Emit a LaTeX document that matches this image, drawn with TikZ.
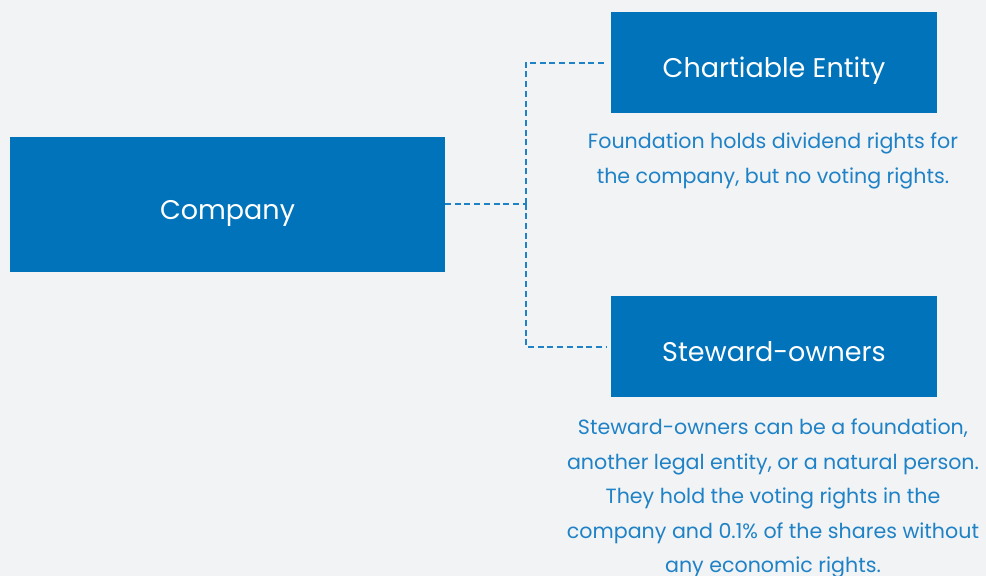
\documentclass[tikz,border=0pt]{standalone}
\usepackage{fontspec}
\setmainfont{Poppins}
\definecolor{boxblue}{HTML}{0073BB}
\definecolor{noteblue}{HTML}{1F82C6}
\definecolor{pagegray}{HTML}{F1F3F5}
\tikzset{
  unitbox/.style={rectangle, fill=boxblue, text=white, align=center,
    inner sep=0, outer sep=0, text height=29pt, text depth=0pt,
    font=\fontsize{27}{30}\selectfont},
  notetext/.style={text=noteblue, align=center, inner sep=0,
    font=\fontsize{20.6}{34.5}\selectfont},
  link/.style={draw=noteblue, line width=2pt, dash pattern=on 6pt off 3.7pt}
}
\begin{document}
\begin{tikzpicture}[x=1pt, y=-1pt]
  \fill[pagegray] (0, 0) rectangle (986, 576);
  \useasboundingbox (0, 0) rectangle (986, 576);

% BOXES
  \node[unitbox,
    minimum width = 435pt,
    minimum height = 135pt] (company) at (227.5, 204.5) {Company};
  \node[unitbox,
    minimum width = 326pt,
    minimum height = 101pt] (charity) at (774, 62.5) {Chartiable Entity};
  \node[unitbox,
    minimum width = 326pt,
    minimum height = 101pt] (steward) at (774, 346.5) {Steward-owners};

% NOTES
  \node[notetext, anchor=north] (charity_note) at (773, 133)
    {Foundation holds dividend rights for\\the company, but no voting rights.};
  \node[notetext, anchor=north] (steward_note) at (773, 419)
    {Steward-owners can be a foundation,\\another legal entity, or a natural person.\\They hold the voting rights in the\\company and 0.1\% of the shares without\\any economic rights.};

% LINKS
  \coordinate (split) at (525.5, 203.5);
  \draw[link] (company.east |- split) -- (split);
  \draw[link, shorten >=5pt] (split) |- (charity.west);
  \draw[link, shorten >=5pt] (split) |- (steward.west);
\end{tikzpicture}
\end{document}
